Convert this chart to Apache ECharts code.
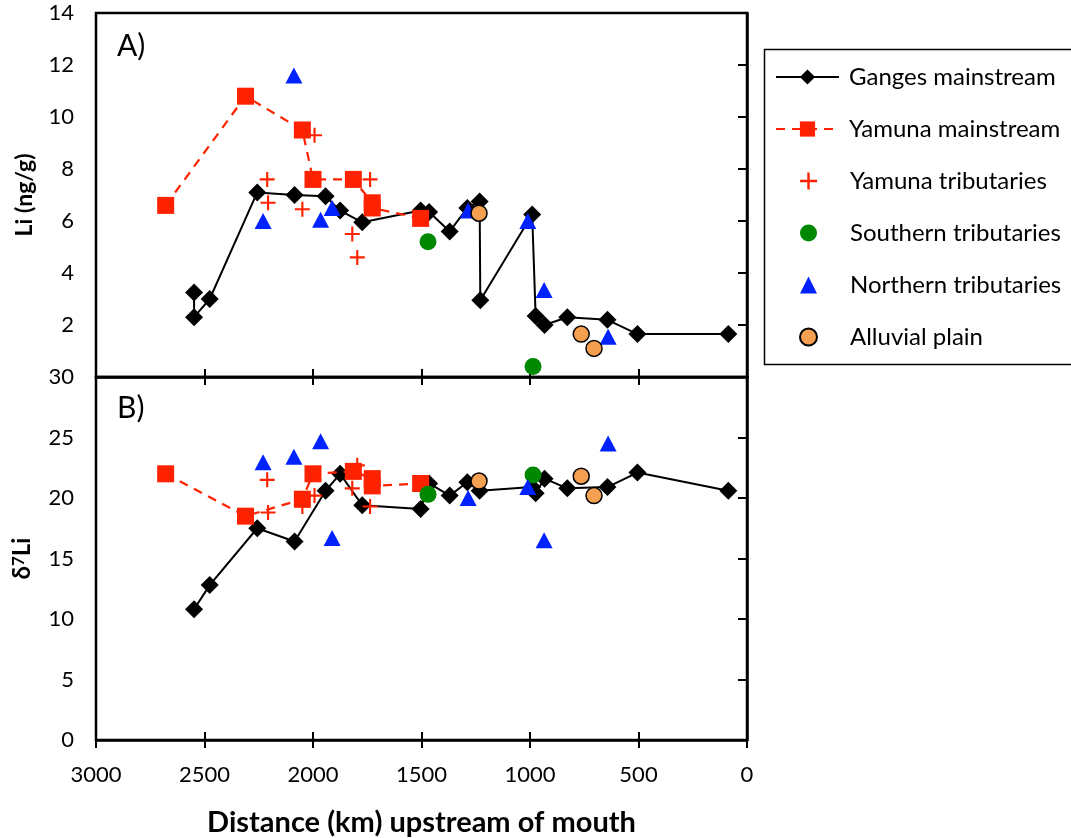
<!DOCTYPE html>
<html>
<head>
<meta charset="utf-8">
<script src="https://cdn.jsdelivr.net/npm/echarts@6/dist/echarts.min.js"></script>
<style>
html,body{margin:0;padding:0;background:#fff;}
#chart{width:1071px;height:838px;}
</style>
</head>
<body>
<div id="chart"></div>
<script>
// ---- Data (distance in km upstream of mouth) ----
const gangesDistLi = [2548, 2548, 2476, 2257, 2085, 1942, 1875, 1773, 1504, 1465, 1370, 1289, 1232, 1229, 990, 974, 933, 828, 643, 505, 86];
const gangesLi     = [3.25, 2.3, 3.0, 7.1, 7.0, 6.95, 6.4, 5.95, 6.4, 6.35, 5.6, 6.5, 6.75, 2.95, 6.25, 2.35, 2.0, 2.3, 2.2, 1.65, 1.65];
const gangesDistD  = [2548, 2476, 2257, 2085, 1942, 1875, 1773, 1504, 1465, 1370, 1289, 1232, 990, 974, 933, 828, 643, 505, 86];
const gangesD      = [10.8, 12.8, 17.5, 16.4, 20.6, 22.0, 19.4, 19.1, 21.2, 20.2, 21.3, 20.6, 20.9, 20.4, 21.6, 20.8, 20.9, 22.1, 20.6];

const yamunaDist = [2679, 2311, 2049, 2000, 1814, 1727, 1727, 1504];
const yamunaLi   = [6.6, 10.8, 9.5, 7.6, 7.6, 6.7, 6.5, 6.1];
const yamunaD    = [22.0, 18.5, 19.9, 22.0, 22.2, 21.6, 21.0, 21.2];

const yamTribDist = [2211, 2207, 2049, 1993, 1819, 1796, 1737];
const yamTribLi   = [7.6, 6.7, 6.45, 9.3, 5.5, 4.6, 7.6];
const yamTribD    = [21.5, 18.8, 19.3, 20.2, 20.8, 22.7, 19.3];

const southDist = [1470, 986];
const southLi   = [5.2, 0.4];
const southD    = [20.3, 21.9];

const northDist = [2230, 2088, 1965, 1912, 1285, 1010, 935, 640];
const northLi   = [6.0, 11.6, 6.05, 6.5, 6.4, 6.0, 3.35, 1.55];
const northD    = [22.95, 23.4, 24.7, 16.7, 20.0, 20.9, 16.5, 24.5];

const alluvDist = [1235, 764, 705];
const alluvLi   = [6.3, 1.65, 1.1];
const alluvD    = [21.4, 21.8, 20.2];

function pairs(xs, ys){ return xs.map((x,i)=>[x, ys[i]]); }

const FONT = 'Lato, "Open Sans", sans-serif';
const RED = '#FF2200', BLUE = '#0022FF', GREEN = '#008800', ORANGE = '#F5A050';
const PLUS = 'path://M-1,-7 L1,-7 L1,-1 L7,-1 L7,1 L1,1 L1,7 L-1,7 L-1,1 L-7,1 L-7,-1 L-1,-1 Z';

const chart = echarts.init(document.getElementById('chart'), null, {renderer:'canvas'});

function xAx(grid, showLabel, inside){
  return {
    type:'value', gridIndex:grid, min:0, max:3000, interval:500, inverse:true,
    position:'bottom',
    axisLine:{show:!inside, lineStyle:{color:'#000', width:2.5}},
    axisTick:{show:true, inside:inside, length:8, lineStyle:{color:'#000', width:2}},
    axisLabel:{show:showLabel, color:'#000', fontFamily:FONT, fontSize:22, margin:24,
               formatter:(v)=>String(v)},
    splitLine:{show:false},
    name: (showLabel ? 'Distance (km) upstream of mouth' : ''),
    nameLocation:'middle', nameGap:68,
    nameTextStyle:{color:'#000', fontFamily:FONT, fontSize:29, fontWeight:'bold'}
  };
}

const legendText = {color:'#000', fontFamily:FONT, fontSize:24, lineHeight:26};

const option = {
  backgroundColor:'#fff',
  animation:false,
  grid:[
    {left:96, top:13, width:651, height:364, show:true, borderColor:'#000', borderWidth:2.5},
    {left:96, top:377, width:651, height:363, show:true, borderColor:'#000', borderWidth:2.5}
  ],
  xAxis:[ xAx(0,false,false), xAx(0,false,true), xAx(1,true,false), xAx(1,false,true) ],
  yAxis:[
    {type:'value', gridIndex:0, min:0, max:14, interval:2,
     axisLine:{show:true, lineStyle:{color:'#000', width:2.5}},
     axisTick:{show:true, length:9, lineStyle:{color:'#000', width:2}},
     axisLabel:{color:'#000', fontFamily:FONT, fontSize:22, margin:22, showMinLabel:false},
     splitLine:{show:false},
     name:'Li (ng/g)', nameLocation:'middle', nameGap:60, nameRotate:90,
     nameTextStyle:{color:'#000', fontFamily:FONT, fontSize:23, fontWeight:'bold'}},
    {type:'value', gridIndex:1, min:0, max:30, interval:5,
     axisLine:{show:true, lineStyle:{color:'#000', width:2.5}},
     axisTick:{show:true, length:9, lineStyle:{color:'#000', width:2}},
     axisLabel:{color:'#000', fontFamily:FONT, fontSize:22, margin:22},
     splitLine:{show:false},
     name:'{a|δ}{s|7}{a|Li}', nameLocation:'middle', nameGap:62, nameRotate:90,
     nameTextStyle:{color:'#000', fontFamily:FONT, fontSize:23, fontWeight:'bold',
       rich:{a:{fontFamily:FONT, fontSize:24, fontWeight:'bold', color:'#000'},
             s:{fontFamily:FONT, fontSize:17, fontWeight:'bold', color:'#000', verticalAlign:'top', padding:[0,0,6,0]}}}}
  ],
  legend:[
    {left:775, top:64, orient:'vertical',
     itemWidth:63, itemHeight:19, itemGap:26,
     padding:0,
     textStyle:Object.assign({padding:[0,0,0,5]}, legendText),
     data:['Ganges mainstream','Yamuna mainstream']},
    {left:799, top:168, orient:'vertical',
     itemWidth:17, itemHeight:17, itemGap:26,
     padding:0,
     textStyle:Object.assign({padding:[0,0,0,28]}, legendText),
     data:['Yamuna tributaries','Southern tributaries','Northern tributaries','Alluvial plain']}
  ],
  graphic:[
    {type:'rect', left:762, top:47, shape:{x:0, y:0, width:330, height:315},
     style:{fill:'none', stroke:'#000', lineWidth:1.5}, z:100},
    {type:'text', left:117, top:31, style:{text:'A)', font:'30px Lato, sans-serif', fill:'#000'}},
    {type:'text', left:117, top:393, style:{text:'B)', font:'30px Lato, sans-serif', fill:'#000'}}
  ],
  series:[]
};

function addSet(xi, yi, gL, gX, yX, yV, tX, tV, sX, sV, nX, nV, aX, aV){
  option.series.push(
    {name:'Ganges mainstream', type:'line', xAxisIndex:xi, yAxisIndex:yi, data:pairs(gX,gL),
     symbol:'diamond', symbolSize:18, itemStyle:{color:'#000', opacity:1}, lineStyle:{color:'#000', width:2}, z:2},
    {name:'Yamuna mainstream', type:'line', xAxisIndex:xi, yAxisIndex:yi, data:pairs(yX,yV),
     symbol:'rect', symbolSize:17, itemStyle:{color:RED, opacity:1}, lineStyle:{color:RED, width:2.2, type:[9,7]}, z:3},
    {name:'Yamuna tributaries', type:'scatter', xAxisIndex:xi, yAxisIndex:yi, data:pairs(tX,tV),
     symbol:PLUS, symbolSize:15, itemStyle:{color:RED, opacity:1}, z:4},
    {name:'Southern tributaries', type:'scatter', xAxisIndex:xi, yAxisIndex:yi, data:pairs(sX,sV),
     symbol:'circle', symbolSize:17, itemStyle:{color:GREEN, opacity:1}, z:5},
    {name:'Northern tributaries', type:'scatter', xAxisIndex:xi, yAxisIndex:yi, data:pairs(nX,nV),
     symbol:'triangle', symbolSize:[17,16], itemStyle:{color:BLUE, opacity:1}, z:6},
    {name:'Alluvial plain', type:'scatter', xAxisIndex:xi, yAxisIndex:yi, data:pairs(aX,aV),
     symbol:'circle', symbolSize:16, itemStyle:{color:ORANGE, borderColor:'#000', borderWidth:1.5, opacity:1}, z:7}
  );
}
addSet(0, 0, gangesLi, gangesDistLi, yamunaDist, yamunaLi, yamTribDist, yamTribLi, southDist, southLi, northDist, northLi, alluvDist, alluvLi);
addSet(2, 1, gangesD, gangesDistD, yamunaDist, yamunaD, yamTribDist, yamTribD, southDist, southD, northDist, northD, alluvDist, alluvD);

chart.setOption(option);
</script>
</body>
</html>
